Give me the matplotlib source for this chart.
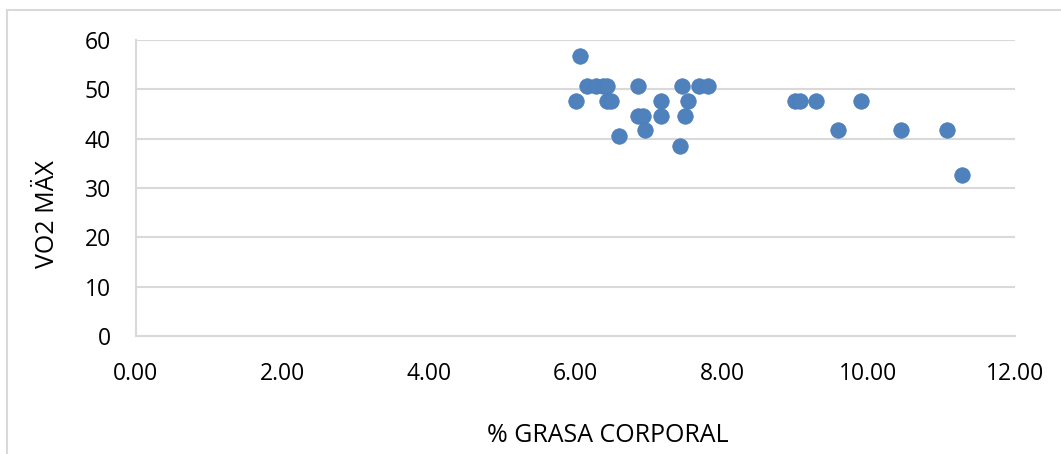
import matplotlib
matplotlib.use("Agg")
import matplotlib.pyplot as plt
from matplotlib.lines import Line2D

# % grasa corporal vs VO2 max
grasa = [6.06,
         6.16, 6.28, 6.38, 6.43, 6.85, 7.46, 7.69, 7.81,
         6.01, 6.43, 6.48, 7.17, 7.54, 8.99, 9.07, 9.28, 9.90,
         6.85, 6.92, 7.17, 7.49,
         6.95, 9.59, 10.44, 11.07,
         6.59, 7.43, 11.28]
vo2 = [56.7,
       50.6, 50.6, 50.6, 50.6, 50.6, 50.6, 50.6, 50.6,
       47.6, 47.6, 47.6, 47.6, 47.6, 47.6, 47.6, 47.6, 47.6,
       44.6, 44.6, 44.6, 44.6,
       41.7, 41.7, 41.7, 41.7,
       40.5, 38.6, 32.7]

x_ticks = [0, 2, 4, 6, 8, 10, 12]
y_ticks = [0, 10, 20, 30, 40, 50, 60]

plt.rcParams["font.family"] = ["Open Sans", "DejaVu Sans"]
W, H = 1061, 454
fig = plt.figure(figsize=(W / 100, H / 100), dpi=100)
ax = fig.add_axes([136 / W, 1 - 336 / H, (1015 - 136) / W, (336 - 40) / H])

ax.scatter(grasa, vo2, s=125, color="#4F81BD", edgecolors="#4A7EBB",
           linewidths=0.5, zorder=3)

ax.set_xlim(0, 12)
ax.set_ylim(0, 60)
ax.set_xticks(x_ticks)
ax.set_xticklabels(["%.2f" % v for v in x_ticks])
ax.set_yticks(y_ticks)
ax.tick_params(axis="both", length=0, labelsize=16.5, colors="black")
ax.tick_params(axis="y", pad=18)
ax.tick_params(axis="x", pad=19)
ax.grid(axis="y", color="#d9d9d9", linewidth=1.5)
ax.set_axisbelow(True)
for s in ["top", "right"]:
    ax.spines[s].set_visible(False)
for s in ["left", "bottom"]:
    ax.spines[s].set_color("#d9d9d9")
    ax.spines[s].set_linewidth(1.5)

fig.text(608 / W, 1 - 436 / H, "% GRASA CORPORAL", ha="center", va="center",
         fontsize=18)
fig.text(47.5 / W, 1 - 214 / H, "VO2 MÄX", ha="center", va="center",
         rotation=90, fontsize=18)

# chart area border (cut off at right and bottom)
fig.add_artist(Line2D([7 / W, 1], [1 - 9.5 / H, 1 - 9.5 / H],
                      transform=fig.transFigure, color="#d9d9d9", lw=1.5))
fig.add_artist(Line2D([7 / W, 7 / W], [0, 1 - 9.5 / H],
                      transform=fig.transFigure, color="#d9d9d9", lw=1.5))

fig.savefig("out.png", dpi=100, facecolor="white")
